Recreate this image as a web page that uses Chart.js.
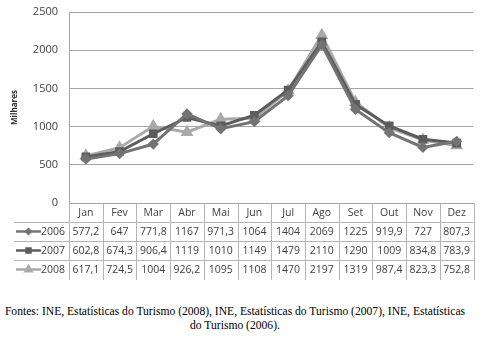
<!DOCTYPE html>
<html>
<head>
<meta charset="utf-8">
<script src="https://cdn.jsdelivr.net/npm/chart.js@4.4.0/dist/chart.umd.min.js"></script>
<style>
  body { margin: 0; background: #fff; width: 481px; height: 337px; overflow: hidden; }
  #wrap { position: absolute; left: 0; top: 0; width: 481px; height: 292px; }
  #fonte { position: absolute; left: 0; top: 305px; width: 470px; text-align: center;
           font-family: "Liberation Serif", "Times New Roman", serif; font-size: 11.6px; line-height: 14px; color: #000; }
</style>
</head>
<body>
<div id="wrap"><canvas id="grafico"></canvas></div>
<div id="fonte">Fontes: INE, Estatísticas do Turismo (2008), INE, Estatísticas do Turismo (2007), INE, Estatísticas<br>do Turismo (2006).</div>
<script>
const meses = ['Jan', 'Fev', 'Mar', 'Abr', 'Mai', 'Jun', 'Jul', 'Ago', 'Set', 'Out', 'Nov', 'Dez'];
const anos = ['2006', '2007', '2008'];
const valores2006 = [577.2, 647, 771.8, 1167, 971.3, 1064, 1404, 2069, 1225, 919.9, 727, 807.3];
const valores2007 = [602.8, 674.3, 906.4, 1119, 1010, 1149, 1479, 2110, 1290, 1009, 834.8, 783.9];
const valores2008 = [617.1, 724.5, 1004, 926.2, 1095, 1108, 1470, 2197, 1319, 987.4, 823.3, 752.8];
const ticksY = [0, 500, 1000, 1500, 2000, 2500];

const cores = ['#737373', '#5c5c5c', '#a9a9a9'];
const marcadores = ['rectRot', 'rect', 'triangle'];
const raios = [3.5, 4, 4.5];
const series = [valores2006, valores2007, valores2008];

function fmt(v) {
    return String(v).replace('.', ',');
}

// desenha a tabela de dados por baixo do eixo x
const tabelaDados = {
    id: 'tabelaDados',
    afterDraw(chart) {
        const ctx = chart.ctx;
        const xs = chart.scales.x;
        const top = chart.chartArea.bottom;
        const rowH = 19;
        const esq = 14;
        const colW = xs.width / meses.length;
        ctx.save();
        ctx.strokeStyle = '#b4b4b4';
        ctx.lineWidth = 1;
        // linhas verticais
        for (let i = 0; i <= meses.length; i++) {
            const x = Math.round(xs.left + i * colW) + 0.5;
            ctx.beginPath();
            ctx.moveTo(x, top);
            ctx.lineTo(x, top + rowH * 4 + 1);
            ctx.stroke();
        }
        // linhas horizontais
        for (let r = 1; r <= 3; r++) {
            const y = Math.round(top + rowH * r) + 0.5;
            ctx.beginPath();
            ctx.moveTo(esq, y);
            ctx.lineTo(xs.right, y);
            ctx.stroke();
        }
        ctx.font = '10.5px "Open Sans", sans-serif';
        ctx.fillStyle = '#404040';
        ctx.textAlign = 'center';
        ctx.textBaseline = 'middle';
        meses.forEach((m, i) => {
            ctx.fillText(m, xs.getPixelForValue(i), top + rowH / 2 + 1);
        });
        series.forEach((s, r) => {
            const yc = top + rowH * (r + 1) + rowH / 2 + 1;
            s.forEach((v, i) => {
                ctx.fillText(fmt(v), xs.getPixelForValue(i), yc);
            });
            // chave da legenda
            ctx.strokeStyle = cores[r];
            ctx.lineWidth = 2.5;
            ctx.beginPath();
            ctx.moveTo(16, yc - 1);
            ctx.lineTo(41, yc - 1);
            ctx.stroke();
            Chart.helpers.drawPoint(ctx, {
                pointStyle: marcadores[r], radius: raios[r] - 1.2, borderWidth: 1
            }, 28.5, yc - 1);
            ctx.fillStyle = cores[r];
            ctx.fill();
            ctx.fillStyle = '#404040';
            ctx.textAlign = 'left';
            ctx.fillText(anos[r], 41, yc);
            ctx.textAlign = 'center';
            ctx.strokeStyle = '#b4b4b4';
            ctx.lineWidth = 1;
        });
        ctx.restore();
    }
};

new Chart(document.getElementById('grafico'), {
    type: 'line',
    data: {
        labels: meses,
        datasets: series.map((s, r) => ({
            label: anos[r],
            data: s,
            borderColor: cores[r],
            backgroundColor: cores[r],
            pointBackgroundColor: cores[r],
            pointBorderColor: cores[r],
            pointStyle: marcadores[r],
            pointRadius: raios[r],
            borderWidth: 3,
            tension: 0
        }))
    },
    options: {
        responsive: true,
        maintainAspectRatio: false,
        animation: false,
        layout: { padding: { left: 0, right: 5, top: 12, bottom: 9 } },
        plugins: {
            legend: { display: false },
            tooltip: { enabled: false }
        },
        scales: {
            x: {
                offset: true,
                grid: { display: false },
                border: { display: false },
                ticks: { display: false },
                afterFit(scale) { scale.height = 80; }
            },
            y: {
                min: 0,
                max: 2500,
                afterBuildTicks(scale) { scale.ticks = ticksY.map(v => ({ value: v })); },
                afterFit(scale) {
                    scale.width = 69;
                    scale.paddingTop = 0;
                    scale.paddingBottom = 0;
                },
                grid: { color: '#a6a6a6', drawTicks: false },
                border: { color: '#a6a6a6' },
                ticks: {
                    padding: 11,
                    color: '#404040',
                    font: { family: '"Open Sans", sans-serif', size: 11 },
                    callback: v => String(v)
                },
                title: {
                    display: true,
                    text: 'Milhares',
                    color: '#303030',
                    padding: { top: 10, bottom: 0 },
                    font: { family: '"Open Sans", sans-serif', size: 8, weight: 'bold' }
                }
            }
        }
    },
    plugins: [tabelaDados]
});
</script>
</body>
</html>
